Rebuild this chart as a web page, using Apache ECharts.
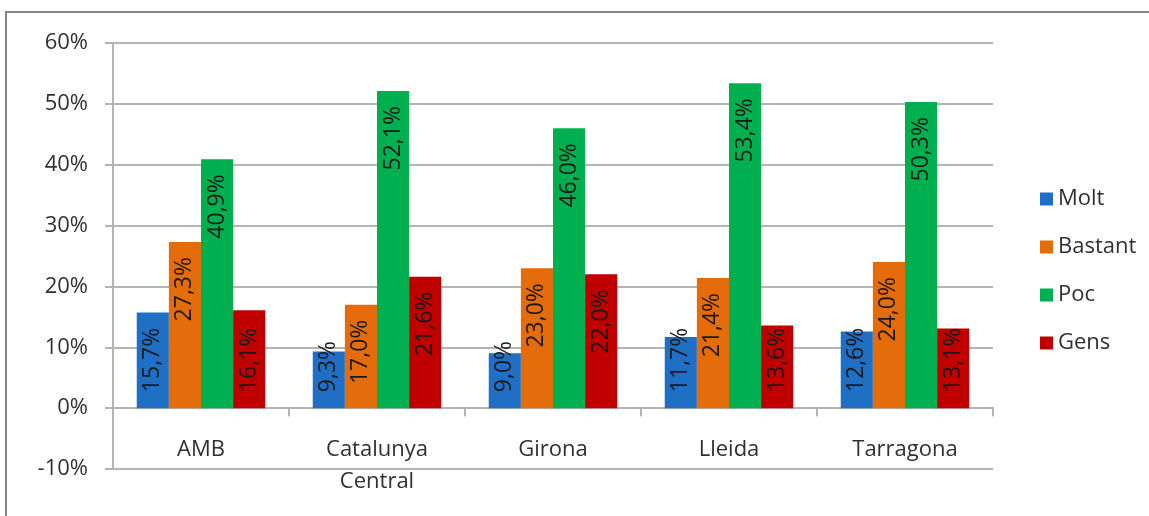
<!DOCTYPE html>
<html>
<head>
<meta charset="utf-8">
<script src="https://cdn.jsdelivr.net/npm/echarts@6/dist/echarts.min.js"></script>
<style>
html,body{margin:0;padding:0;background:#fff;}
#chart{width:1149px;height:516px;}
</style>
</head>
<body>
<div id="chart"></div>
<script>
const categories = ['AMB', 'Catalunya\nCentral', 'Girona', 'Lleida', 'Tarragona'];
const molt    = [15.7, 9.3, 9.0, 11.7, 12.6];
const bastant = [27.3, 17.0, 23.0, 21.4, 24.0];
const poc     = [40.9, 52.1, 46.0, 53.4, 50.3];
const gens    = [16.1, 21.6, 22.0, 13.6, 13.1];
const seriesNames = ['Molt', 'Bastant', 'Poc', 'Gens'];
const seriesColors = ['#1F6FC5', '#E46C0A', '#00B050', '#C00000'];
const yTicks = { min: -10, max: 60, interval: 10 };

const FONT = '"Open Sans", "Noto Sans", sans-serif';

function fmt(v) { return v.toFixed(1).replace('.', ',') + '%'; }

function makeData(arr) {
  return arr.map(v => {
    const short = v < 17;
    return {
      value: v,
      label: short
        ? { position: 'insideBottom', align: 'left', distance: 16 }
        : { position: 'insideTop', align: 'right', distance: 15 }
    };
  });
}

const allData = [molt, bastant, poc, gens];

const chart = echarts.init(document.getElementById('chart'), null, { renderer: 'canvas' });
chart.setOption({
  animation: false,
  backgroundColor: '#ffffff',
  graphic: [{
    type: 'rect',
    shape: { x: 6, y: 12, width: 1300, height: 700 },
    style: { fill: 'none', stroke: '#858585', lineWidth: 2 },
    silent: true, z: -1
  }],
  grid: { left: 113, right: 156, top: 43, bottom: 47, containLabel: false, outerBoundsMode: 'none' },
  legend: {
    orient: 'vertical',
    left: 1035,
    top: 183,
    itemWidth: 13,
    itemHeight: 13,
    itemGap: 26,
    icon: 'rect',
    textStyle: { fontFamily: FONT, fontSize: 22, color: '#303030', lineHeight: 22, padding: [0, 0, 0, 0] },
    data: seriesNames
  },
  xAxis: {
    type: 'category',
    data: categories,
    axisLine: { onZero: true, lineStyle: { color: '#b4b4b4', width: 2 } },
    axisTick: { show: true, alignWithLabel: false, length: 8, lineStyle: { color: '#b4b4b4', width: 2 } },
    axisLabel: { fontFamily: FONT, fontSize: 22, color: '#303030', margin: -35, lineHeight: 32, interval: 0 },
    splitLine: { show: false }
  },
  yAxis: {
    type: 'value',
    min: yTicks.min, max: yTicks.max, interval: yTicks.interval,
    axisLine: { show: true, lineStyle: { color: '#b4b4b4', width: 2 } },
    axisTick: { show: true, length: 8, lineStyle: { color: '#b4b4b4', width: 2 } },
    axisLabel: { fontFamily: FONT, fontSize: 22, color: '#303030', margin: 25, formatter: '{value}%' },
    splitLine: { show: true, lineStyle: { color: '#b4b4b4', width: 2 } }
  },
  series: seriesNames.map((name, i) => ({
    name: name,
    type: 'bar',
    data: makeData(allData[i]),
    itemStyle: { color: seriesColors[i] },
    barGap: '0%',
    barCategoryGap: '27%',
    label: {
      show: true,
      rotate: 90,
      verticalAlign: 'middle',
      fontFamily: FONT,
      fontSize: 23,
      color: '#1a1a1a',
      formatter: p => fmt(p.value)
    }
  }))
});
</script>
</body>
</html>
